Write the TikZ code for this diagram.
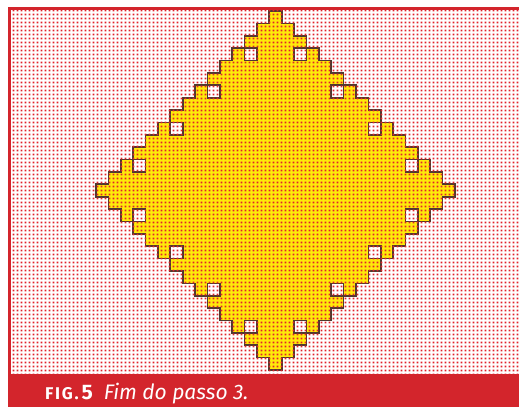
\documentclass[tikz,border=0pt]{standalone}
\usepackage{fontspec}
\setmainfont{Fira Sans}
\usepackage{tikz}
\usetikzlibrary{positioning,patterns}
\definecolor{FrameRed}{HTML}{D3252C}
\definecolor{DotRed}{HTML}{E0232C}
\definecolor{CellYellow}{HTML}{FFEA0A}
\definecolor{EdgeBrown}{HTML}{4E3A30}
\pgfdeclarepatternformonly{halftone}{\pgfqpoint{0pt}{0pt}}{\pgfqpoint{4pt}{4pt}}{\pgfqpoint{4pt}{4pt}}{%
  \pgfpathrectangle{\pgfqpoint{0.9pt}{0.9pt}}{\pgfqpoint{2.2pt}{2.2pt}}\pgfusepath{fill}}

\begin{document}
\begin{tikzpicture}[x=1pt, y=-1pt,
  edge/.style={draw=EdgeBrown, line width=1.7pt, line join=miter},
  hole/.style={fill=white},
  dots/.style={pattern=halftone, pattern color=DotRed},
  caption/.style={text=white, font=\fontsize{21}{21}\selectfont, anchor=base west, inner sep=0pt}]
\useasboundingbox (0,0) rectangle (519,407);
\fill[white] (0,0) rectangle (519,407);
% staircase diamond, one unit = one cell
\begin{scope}[xshift=275.5pt, yshift=-11pt, x=12.38pt, y=-12.38pt]
  \path[fill=CellYellow, edge] (-0.5,0)
    foreach \k in {1,...,15} { -- ++(1,0) -- ++(0,1) }
    foreach \k in {1,...,14} { -- ++(-1,0) -- ++(0,1) } -- ++(-1,0)
    foreach \k in {1,...,14} { -- ++(0,-1) -- ++(-1,0) }
    foreach \k in {1,...,14} { -- ++(0,-1) -- ++(1,0) } -- cycle;
  % holes next to the edge
  \foreach \r/\j in {4/2, 7/5, 10/8, 13/11, 17/11, 20/8, 23/5, 26/2} {
    \draw[hole, edge] (\j-0.5,\r-1) rectangle ++(1,1);
    \draw[hole, edge] (-\j-0.5,\r-1) rectangle ++(1,1);
  }
\end{scope}
\fill[dots] (10.5,9.5) rectangle (519,374);
% frame
\fill[FrameRed] (8,7) rectangle (519,9.5);
\fill[FrameRed] (8,7) rectangle (10.5,374);
\fill[FrameRed] (8,374) rectangle (519,407);
\node[caption] (figcap) at (45,399) {{\bfseries{\fontsize{17}{17}\selectfont\addfontfeature{LetterSpace=10}FIG.}\hspace{3pt}5}\hspace{11pt}{\itshape Fim do passo 3.}};
\end{tikzpicture}
\end{document}
